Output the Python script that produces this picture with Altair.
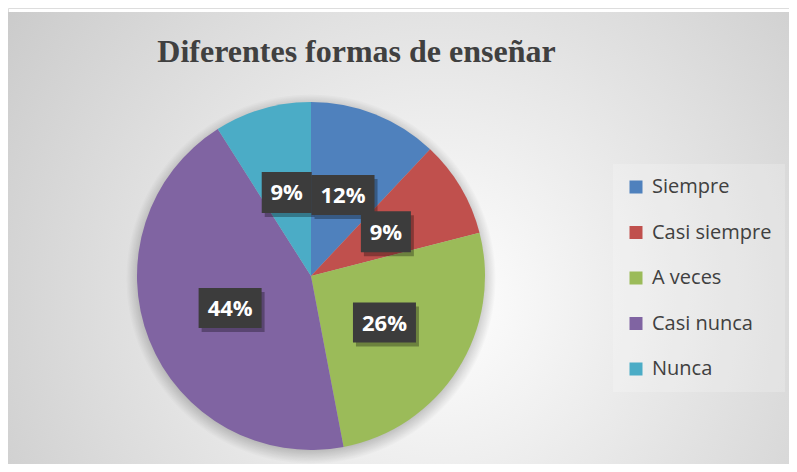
import altair as alt
import pandas as pd

# ---- data ----
categories = ["Siempre", "Casi siempre", "A veces", "Casi nunca", "Nunca"]
percentages = [12, 9, 26, 44, 9]
labels = ["12%", "9%", "26%", "44%", "9%"]
colors = ["#4f81bd", "#c0504d", "#9bbb59", "#8064a2", "#4bacc6"]
title_text = "Diferentes formas de enseñar"

df = pd.DataFrame({
    "categoria": categories,
    "valor": percentages,
    "etiqueta": labels,
    "orden": list(range(len(categories))),
})

# ---- layout ----
W, H = 781, 456
CX, CY, R = 303, 268, 174

one = alt.Data(values=[{"k": 1}])

background = alt.Chart(one).mark_rect(
    color=alt.RadialGradient(
        gradient="radial",
        stops=[alt.GradientStop(offset=0, color="#ffffff"),
               alt.GradientStop(offset=1, color="#c2c2c2")],
        x1=0.55, y1=0.58, r1=0, x2=0.55, y2=0.58, r2=0.78,
    )
).encode(x=alt.value(0), x2=alt.value(W), y=alt.value(4), y2=alt.value(H))

shadow = alt.Chart(one).mark_arc(
    outerRadius=R + 11,
    color=alt.RadialGradient(
        gradient="radial",
        stops=[alt.GradientStop(offset=0, color="rgba(0,0,0,0.22)"),
               alt.GradientStop(offset=0.92, color="rgba(0,0,0,0.22)"),
               alt.GradientStop(offset=1, color="rgba(0,0,0,0)")],
        x1=0.5, y1=0.5, r1=0, x2=0.5, y2=0.5, r2=0.5,
    ),
).encode(theta=alt.value(0), theta2=alt.value(6.2832),
         x=alt.value(CX), y=alt.value(CY + 3))

base = alt.Chart(df)

pie = base.mark_arc(outerRadius=R).encode(
    theta=alt.Theta("valor:Q", stack=True),
    color=alt.Color(
        "categoria:N",
        scale=alt.Scale(domain=categories, range=colors),
        sort=categories,
        legend=alt.Legend(
            title=None, orient="none", legendX=605, legendY=156,
            labelFont="Open Sans", labelFontSize=20, labelColor="#404040",
            symbolType="square", symbolSize=169, symbolStrokeWidth=0,
            rowPadding=25.5, padding=13, labelOffset=6,
            fillColor="rgba(255,255,255,0.2)",
        ),
    ),
    order=alt.Order("orden:Q"),
    x=alt.value(CX), y=alt.value(CY),
)

pos = base.transform_joinaggregate(
    total="sum(valor)"
).transform_window(
    acum="sum(valor)", sort=[alt.SortField("orden")], frame=[None, 0]
).transform_calculate(
    medio="(datum.acum - datum.valor / 2) / datum.total * 2 * PI",
    px="0.5 * sin(datum.medio)",
    py="0.5 * cos(datum.medio)",
    forma="length(datum.etiqueta) > 2 ? 'M-1,-0.635L1,-0.635L1,0.635L-1,0.635Z' : 'M-1,-0.82L1,-0.82L1,0.82L-1,0.82Z'",
    tam="length(datum.etiqueta) > 2 ? 3969 : 2500",
)

xenc = alt.X("px:Q", scale=alt.Scale(domain=[-1, 1], range=[CX - R, CX + R]), axis=None)
yenc = alt.Y("py:Q", scale=alt.Scale(domain=[-1, 1], range=[CY + R, CY - R]), axis=None)

box_shadow = pos.mark_point(filled=True, opacity=0.3, color="#000000", strokeWidth=0,
                            xOffset=3, yOffset=4).encode(
    x=xenc, y=yenc,
    shape=alt.Shape("forma:N", scale=None),
    size=alt.Size("tam:Q", scale=None),
)

boxes = pos.mark_point(filled=True, opacity=1, color="#3c3c3c", strokeWidth=0).encode(
    x=xenc, y=yenc,
    shape=alt.Shape("forma:N", scale=None),
    size=alt.Size("tam:Q", scale=None),
)

texts = pos.mark_text(font="Open Sans", fontSize=22, fontWeight="bold", color="#ffffff",
                      align="center", baseline="middle", dy=1).encode(
    x=xenc, y=yenc, text="etiqueta:N",
)

chart = alt.layer(background, shadow, pie, box_shadow, boxes, texts).properties(
    width=W, height=H,
    padding=0,
    autosize=alt.AutoSizeParams(type="none"),
    title=alt.TitleParams(
        title_text, font="Liberation Serif", fontSize=32, fontWeight="bold",
        color="#404040", anchor="middle", frame="group", orient="top",
        baseline="alphabetic", offset=0, dy=86, dx=-42,
    ),
).configure_view(stroke=None).configure(background="#ffffff")

chart.save("out.html", embed_options={"renderer": "svg", "actions": False})
